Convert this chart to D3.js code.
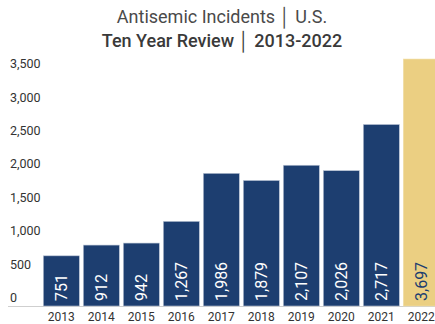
<!DOCTYPE html>
<html>
<head>
<meta charset="utf-8">
<script src="https://cdn.jsdelivr.net/npm/d3@7"></script>
<style>
  html, body { margin: 0; padding: 0; background: #fff; }
  svg { display: block; font-family: Roboto, "Noto Sans", sans-serif; }
</style>
</head>
<body>
<svg id="chart" width="435" height="324"></svg>
<script>
// Annual antisemitic incidents, U.S.
const years = ["2013", "2014", "2015", "2016", "2017", "2018", "2019", "2020", "2021", "2022"];
const incidents = [751, 912, 942, 1267, 1986, 1879, 2107, 2026, 2717, 3697];
const yTicks = [0, 500, 1000, 1500, 2000, 2500, 3000, 3500];
const titleLines = ["Antisemic Incidents \u2502 U.S.", "Ten Year Review \u2502 2013-2022"];

const navy = "#1d3e70";
const gold = "#ebcf82";
const highlightYear = "2022";

const svg = d3.select("#chart");
const baseY = 306;

const y = d3.scaleLinear().domain([0, 3500]).range([baseY, baseY - 3500 * 0.0668]);
const x = d3.scaleBand().domain(years).range([41.3, 441.3])
  .paddingInner(0.1).paddingOuter(0.05);

// Title
svg.append("text")
  .attr("x", 222).attr("y", 23)
  .attr("text-anchor", "middle")
  .attr("font-size", 18).attr("fill", "#4a4a4a")
  .text(titleLines[0]);
svg.append("text")
  .attr("x", 222).attr("y", 47)
  .attr("text-anchor", "middle")
  .attr("font-size", 18).attr("font-weight", 500).attr("fill", "#3a3a3a")
  .text(titleLines[1]);

// Y axis labels sit just above their value lines
svg.append("g").selectAll("text")
  .data(yTicks).join("text")
  .attr("x", 10)
  .attr("y", d => y(d) - 4)
  .attr("font-size", 12.5).attr("fill", "#333")
  .text(d => d3.format(",")(d));

// Baseline
svg.append("line")
  .attr("x1", 8).attr("x2", 435)
  .attr("y1", baseY + 0.5).attr("y2", baseY + 0.5)
  .attr("stroke", "#cfcfcf").attr("stroke-width", 1);

const data = years.map((yr, i) => ({ year: yr, value: incidents[i] }));

// Bars
svg.append("g").selectAll("rect")
  .data(data).join("rect")
  .attr("x", d => x(d.year))
  .attr("y", d => y(d.value))
  .attr("width", x.bandwidth())
  .attr("height", d => baseY - y(d.value))
  .attr("fill", d => d.year === highlightYear ? gold : navy)
  .attr("stroke", d => d.year === highlightYear ? "#f1dfa8" : "#b9c4d4")
  .attr("stroke-width", 0.6);

// Value labels, rotated and reading upward from the bar base
svg.append("g").selectAll("text")
  .data(data).join("text")
  .attr("transform", d => `translate(${x(d.year) + x.bandwidth() / 2 + 0.5},${baseY - 5}) rotate(-90)`)
  .attr("dominant-baseline", "central")
  .attr("font-size", 16)
  .attr("fill", d => d.year === highlightYear ? navy : "#fff")
  .text(d => d3.format(",")(d.value));

// Year labels
svg.append("g").selectAll("text")
  .data(years).join("text")
  .attr("x", d => x(d) + x.bandwidth() / 2)
  .attr("y", 321)
  .attr("text-anchor", "middle")
  .attr("font-size", 12).attr("fill", "#333")
  .text(d => d);
</script>
</body>
</html>
